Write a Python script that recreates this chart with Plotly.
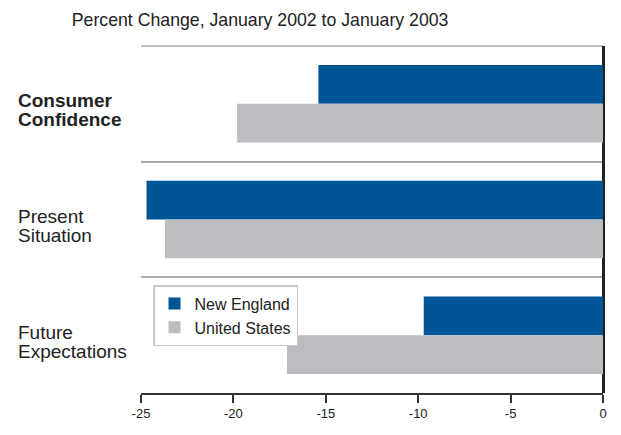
import plotly.graph_objects as go

# Data
categories = ['Consumer Confidence', 'Present Situation', 'Future Expectations']
label_lines = [['Consumer', 'Confidence'], ['Present', 'Situation'], ['Future', 'Expectations']]
new_england = [-15.4, -24.7, -9.7]
united_states = [-19.8, -23.7, -17.1]
tick_values = [-25, -20, -15, -10, -5, 0]
tick_text = ['-25', '-20', '-15', '-10', '-5', '0']

BLUE = '#005596'
GREY = '#bcbdc1'
FONT = 'Liberation Sans, Arial, sans-serif'

fig = go.Figure()
fig.add_trace(go.Bar(
    y=categories, x=new_england, orientation='h',
    marker=dict(color=BLUE, line_width=0),
    name='New England',
))
fig.add_trace(go.Bar(
    y=categories, x=united_states, orientation='h',
    marker=dict(color=GREY, line_width=0),
    name='United States',
))

# left-aligned category labels, two tight lines each
for i, (cat, lines) in enumerate(zip(categories, label_lines)):
    for j, line in enumerate(lines):
        txt = f'<b>{line}</b>' if i == 0 else line
        fig.add_annotation(
            x=-0.27, xref='paper', y=cat, yref='y',
            text=txt, showarrow=False,
            xanchor='left', align='left', yshift=3 - 19 * j,
            font=dict(family=FONT, size=19, color='#222'),
        )

# grey rule along the top of the plot area
fig.add_shape(type='line', xref='paper', yref='paper', x0=0, x1=1, y0=1, y1=1,
              line=dict(color='#aaaaaa', width=1.5), layer='below')

fig.update_layout(
    width=621, height=435,
    # page body adds an 8px offset; margins compensate
    margin=dict(l=133, r=26, t=38, b=50),
    paper_bgcolor='white', plot_bgcolor='white',
    barmode='group', bargap=0.33, bargroupgap=0,
    font=dict(family=FONT, color='#222'),
    title=dict(
        text='Percent Change, January 2002 to January 2003',
        x=0.406, xref='container', xanchor='center',
        y=0.972, yref='container', yanchor='middle',
        font=dict(family=FONT, size=17.7, color='#222'),
    ),
    xaxis=dict(
        range=[-25, 0], tickmode='array', tickvals=tick_values, ticktext=tick_text,
        showgrid=False, zeroline=True, zerolinecolor='#222', zerolinewidth=2.5,
        showline=True, linecolor='#333', linewidth=1.5,
        ticks='outside', ticklen=8, tickcolor='#333', tickwidth=1.5,
        tickfont=dict(family=FONT, size=13, color='#222'),
    ),
    yaxis=dict(
        autorange='reversed', showticklabels=False,
        tickson='boundaries', showgrid=True, gridcolor='#aaaaaa', gridwidth=1.5,
        ticks='', showline=False, zeroline=False,
    ),
    legend=dict(
        x=0.026, y=0.311, xanchor='left', yanchor='top',
        bgcolor='white', bordercolor='#c8c8c8', borderwidth=1.5,
        font=dict(family=FONT, size=16, color='#222'),
        itemsizing='constant', tracegroupgap=0,
    ),
)

fig.write_html('out.html')
